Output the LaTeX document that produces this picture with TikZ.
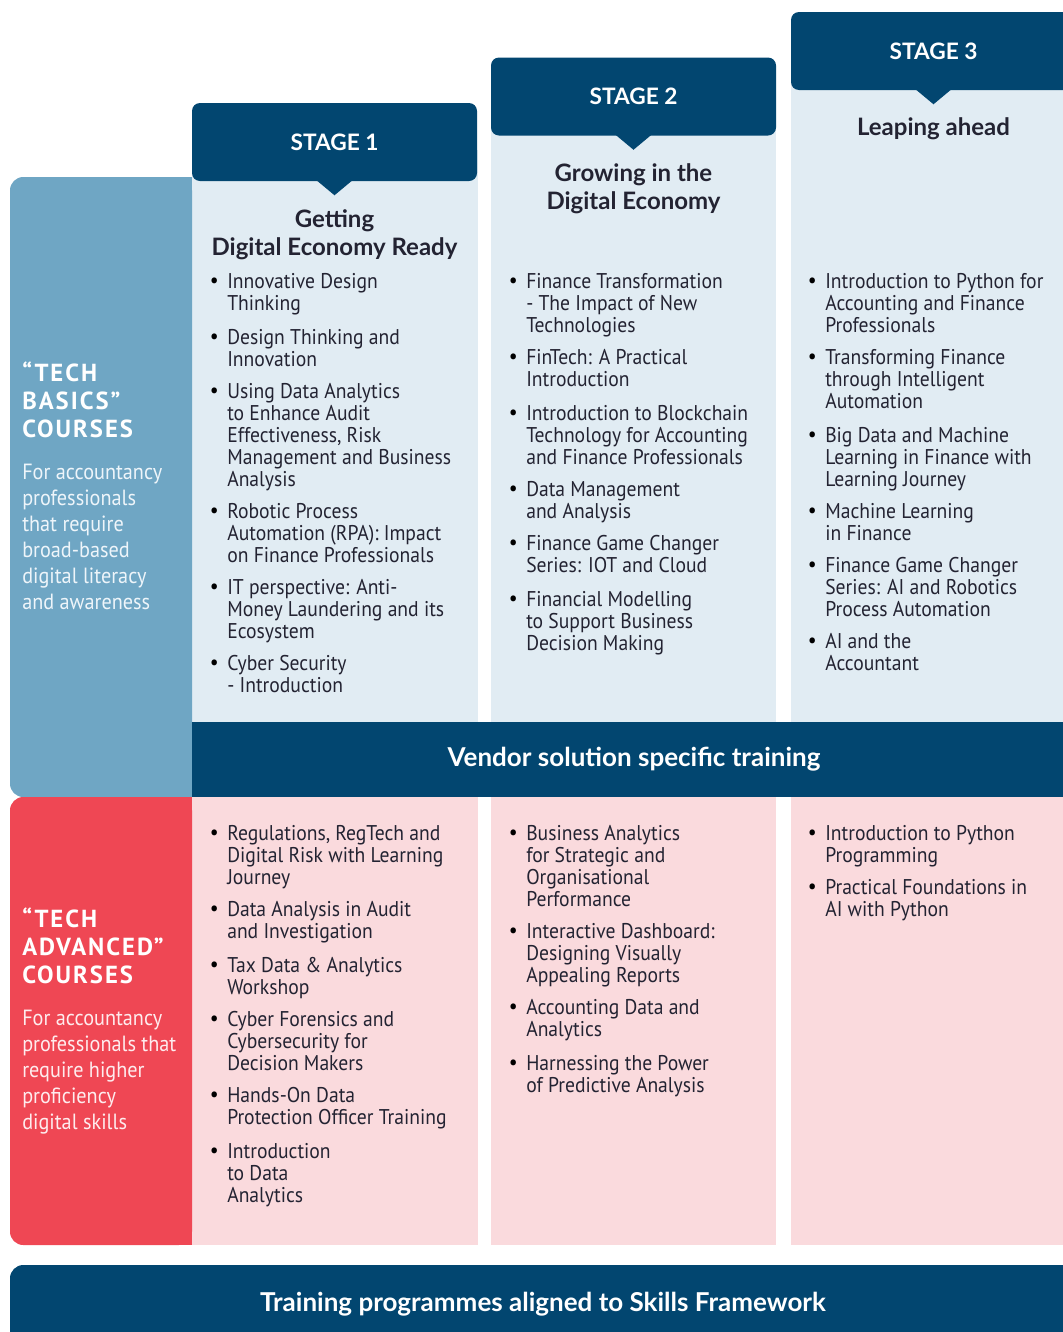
\documentclass[tikz,border=0pt]{standalone}
\usepackage{fontspec}
\setmainfont{PT Sans}
\newfontfamily\headfont{Lato}
\newfontfamily\narrowfont{PT Sans}[FakeStretch=0.92]
\newfontfamily\tagfont{PT Sans}[LetterSpace=8.0]

\definecolor{navy}{RGB}{2,70,112}
\definecolor{basicsblue}{RGB}{111,166,196}
\definecolor{paleblue}{RGB}{225,236,243}
\definecolor{advred}{RGB}{239,71,84}
\definecolor{palepink}{RGB}{250,218,221}
\definecolor{ink}{RGB}{35,35,50}
\definecolor{basicsnote}{RGB}{238,245,250}
\definecolor{advnote}{RGB}{254,236,238}

\tikzset{
  stagehead/.style={fill=navy, text=white, rounded corners=6pt, minimum width=213.75pt,
    minimum height=58.5pt, font=\headfont\bfseries\fontsize{17}{20}\selectfont},
  stagetitle/.style={align=center, inner sep=0pt, text=ink,
    font=\headfont\bfseries\fontsize{18}{21}\selectfont},
  bulletmark/.style={anchor=north east, inner sep=0pt, xshift=-6pt, text height=11pt,
    text depth=0pt, font=\narrowfont\fontsize{16}{16.5}\selectfont},
  course/.style={anchor=north west, align=left, inner sep=0pt, text=ink,
    font=\narrowfont\fontsize{16}{16.5}\selectfont, label={[bulletmark]north west:\textbullet}},
  band/.style={fill=navy, text=white, font=\headfont\bfseries\fontsize{19.5}{22}\selectfont},
  tiertitle/.style={anchor=north west, align=left, inner sep=0pt, text=white,
    font=\tagfont\bfseries\fontsize{18.5}{21}\selectfont},
  tiernote/.style={anchor=north west, align=left, inner sep=0pt,
    font=\narrowfont\fontsize{16.5}{19.5}\selectfont},
}

\begin{document}
\begin{tikzpicture}[x=0.75pt,y=-0.75pt]
  \useasboundingbox (0,0) rectangle (1063,1332);
  \clip (0,0) rectangle (1063,1332);

  % columns
  \fill[paleblue] (192,150) rectangle (478,722);
  \fill[paleblue] (491,100) rectangle (776,722);
  \fill[paleblue] (791,50) rectangle (1076,722);
  \fill[palepink] (192,797) rectangle (478,1245);
  \fill[palepink] (491,797) rectangle (776,1245);
  \fill[palepink] (791,797) rectangle (1076,1245);

  % tier panels on the left
  \fill[basicsblue, rounded corners=10pt] (10,177) rectangle (192,797);
  \fill[basicsblue] (100,177) rectangle (192,797);
  \fill[advred, rounded corners=10pt] (10,797) rectangle (192,1245);
  \fill[advred] (100,797) rectangle (192,1245);

  % stage headers
  \node[stagehead] (s1) at (334.5,142) {STAGE 1};
  \node[stagehead] (s2) at (633.5,96.5) {STAGE 2};
  \node[stagehead] (s3) at (933.5,51) {STAGE 3};
  \fill[navy] (s1.south) ++(-18,-1) -- ++(18,15) -- ++(18,-15) -- cycle;
  \fill[navy] (s2.south) ++(-18,-1) -- ++(18,15) -- ++(18,-15) -- cycle;
  \fill[navy] (s3.south) ++(-18,-1) -- ++(18,15) -- ++(18,-15) -- cycle;

  \node[stagetitle] (t1) at (334.5,235) {Getting\\Digital Economy Ready};
  \node[stagetitle] (t2) at (633.5,189) {Growing in the\\Digital Economy};
  \node[stagetitle] (t3) at (933.5,129) {Leaping ahead};

  % tech basics
  \node[tiertitle] (basics) at (22,362) {“TECH\\BASICS”\\COURSES};
  \node[tiernote, text=basicsnote] (basicsnote) at (22,464)
    {For accountancy\\professionals\\that require\\broad-based\\digital literacy\\and awareness};

  \foreach \ty/\tx [count=\k] in {
      282/{Innovative Design\\Thinking},
      338/{Design Thinking and\\Innovation},
      392/{Using Data Analytics\\to Enhance Audit\\Effectiveness, Risk\\Management and Business\\Analysis},
      512/{Robotic Process\\Automation (RPA): Impact\\on Finance Professionals},
      588/{IT perspective: Anti-\\Money Laundering and its\\Ecosystem},
      664/{Cyber Security\\- Introduction}}
    \node[course] (ba1-\k) at (227,\ty-9) {\tx};

  \foreach \ty/\tx [count=\k] in {
      282/{Finance Transformation\\- The Impact of New\\Technologies},
      358/{FinTech: A Practical\\Introduction},
      414/{Introduction to Blockchain\\Technology for Accounting\\and Finance Professionals},
      490/{Data Management\\and Analysis},
      544/{Finance Game Changer\\Series: IOT and Cloud},
      600/{Financial Modelling\\to Support Business\\Decision Making}}
    \node[course] (ba2-\k) at (526,\ty-9) {\tx};

  \foreach \ty/\tx [count=\k] in {
      282/{Introduction to Python for\\Accounting and Finance\\Professionals},
      358/{Transforming Finance\\through Intelligent\\Automation},
      436/{Big Data and Machine\\Learning in Finance with\\Learning Journey},
      512/{Machine Learning\\in Finance},
      566/{Finance Game Changer\\Series: AI and Robotics\\Process Automation},
      642/{AI and the\\Accountant}}
    \node[course] (ba3-\k) at (825,\ty-9) {\tx};

  % vendor band
  \node[band, minimum width=663pt, minimum height=56.25pt] (vendor) at (634,759.5)
    {Vendor solution specific training};

  % tech advanced
  \node[tiertitle] (advanced) at (22,908) {“TECH\\ADVANCED”\\COURSES};
  \node[tiernote, text=advnote] (advnote) at (22,1010)
    {For accountancy\\professionals that\\require higher\\proficiency\\digital skills};

  \foreach \ty/\tx [count=\k] in {
      834/{Regulations, RegTech and\\Digital Risk with Learning\\Journey},
      910/{Data Analysis in Audit\\and Investigation},
      966/{Tax Data \& Analytics\\Workshop},
      1020/{Cyber Forensics and\\Cybersecurity for\\Decision Makers},
      1096/{Hands-On Data\\Protection Officer Training},
      1152/{Introduction\\to Data\\Analytics}}
    \node[course] (ad1-\k) at (227,\ty-9) {\tx};

  \foreach \ty/\tx [count=\k] in {
      834/{Business Analytics\\for Strategic and\\Organisational\\Performance},
      932/{Interactive Dashboard:\\Designing Visually\\Appealing Reports},
      1008/{Accounting Data and\\Analytics},
      1064/{Harnessing the Power\\of Predictive Analysis}}
    \node[course] (ad2-\k) at (526,\ty-9) {\tx};

  \foreach \ty/\tx [count=\k] in {
      834/{Introduction to Python\\Programming},
      888/{Practical Foundations in\\AI with Python}}
    \node[course] (ad3-\k) at (825,\ty-9) {\tx};

  % skills framework band
  \node[band, rounded corners=10pt, minimum width=799.5pt, minimum height=58.5pt] (skills)
    at (543,1304) {Training programmes aligned to Skills Framework};
\end{tikzpicture}
\end{document}
